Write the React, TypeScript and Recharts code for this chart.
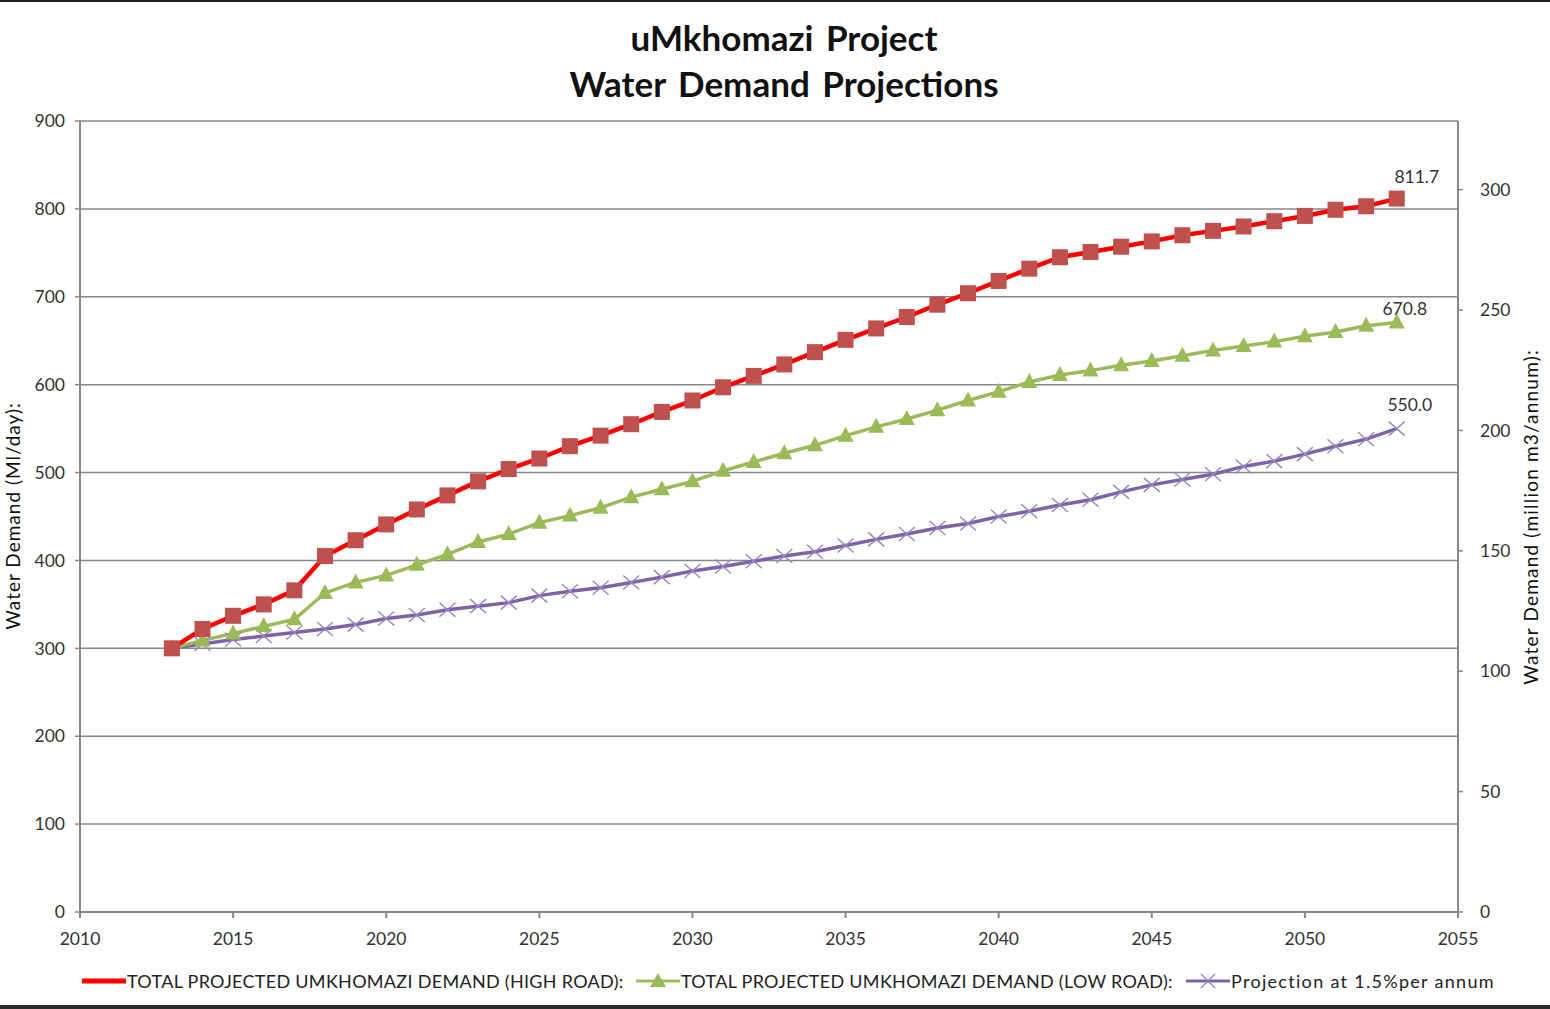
import React from 'react';
import { LineChart, Line, XAxis, YAxis, CartesianGrid } from 'recharts';

const years = [
  2013, 2014, 2015, 2016, 2017, 2018, 2019, 2020, 2021, 2022, 2023, 2024, 2025, 2026,
  2027, 2028, 2029, 2030, 2031, 2032, 2033, 2034, 2035, 2036, 2037, 2038, 2039, 2040,
  2041, 2042, 2043, 2044, 2045, 2046, 2047, 2048, 2049, 2050, 2051, 2052, 2053,
];

const highRoad = [
  300, 322, 337, 350, 366, 405, 423, 441, 458, 474, 490, 504, 516, 530,
  542, 555, 569, 582, 597, 610, 623, 637, 651, 664, 677, 691, 704, 718,
  732, 745, 751, 757, 763, 770, 775, 780, 786, 792, 799, 803, 811.7,
];

const lowRoad = [
  300, 309, 317, 325, 333, 363, 375, 383, 395, 407, 421, 430, 443, 451,
  460, 472, 481, 490, 502, 512, 522, 531, 542, 552, 561, 571, 582, 592,
  603, 611, 616, 622, 627, 633, 639, 644, 649, 655, 660, 667, 670.8,
];

const projection = [
  300, 305, 310, 314, 318, 322, 327, 334, 338, 344, 348, 352, 360, 365,
  369, 375, 381, 388, 393, 399, 405, 410, 417, 424, 430, 437, 442, 450,
  456, 463, 469, 478, 486, 492, 498, 507, 513, 521, 530, 538, 550.0,
];

const leftTicks = [0, 100, 200, 300, 400, 500, 600, 700, 800, 900];
const rightTicks = [0, 50, 100, 150, 200, 250, 300];
const yearTicks = [2010, 2015, 2020, 2025, 2030, 2035, 2040, 2045, 2050, 2055];

const seriesNames = [
  'TOTAL PROJECTED UMKHOMAZI DEMAND (HIGH ROAD):',
  'TOTAL PROJECTED UMKHOMAZI DEMAND (LOW ROAD):',
  'Projection at 1.5%per annum',
];

const data = years.map((year, i) => ({
  year,
  high: highRoad[i],
  low: lowRoad[i],
  proj: projection[i],
}));

const FONT = 'Lato, "Open Sans", sans-serif';
const TEXT = '#333333';
const AXIS = '#888888';

const SquareDot = (props: any) => {
  const { cx, cy, index } = props;
  if (cx == null || cy == null) return <g key={index} />;
  return <rect key={index} x={cx - 8} y={cy - 8} width={16} height={16} fill="#c0504d" />;
};

const TriangleDot = (props: any) => {
  const { cx, cy, index } = props;
  if (cx == null || cy == null) return <g key={index} />;
  return (
    <polygon
      key={index}
      points={`${cx},${cy - 9} ${cx + 8},${cy + 6} ${cx - 8},${cy + 6}`}
      fill="#9bbb59"
    />
  );
};

const CrossDot = (props: any) => {
  const { cx, cy, index } = props;
  if (cx == null || cy == null) return <g key={index} />;
  return (
    <g key={index} stroke="#9a86c0" strokeWidth={1.4}>
      <line x1={cx - 8} y1={cy - 7} x2={cx + 8} y2={cy + 7} />
      <line x1={cx - 8} y1={cy + 7} x2={cx + 8} y2={cy - 7} />
    </g>
  );
};

const endLabel = (dx: number, dy: number) => (props: any) => {
  const { x, y, index, value } = props;
  if (index !== years.length - 1) return <g key={index} />;
  return (
    <text
      key={index}
      x={x + dx}
      y={y + dy}
      textAnchor="middle"
      dominantBaseline="central"
      fontSize={17.5}
      fontFamily={FONT}
      fill={TEXT}
    >
      {Number(value).toFixed(1)}
    </text>
  );
};

const LegendItem = ({ left, color, marker, label, spacing }: any) => (
  <div style={{ position: 'absolute', left, top: 969, display: 'flex', alignItems: 'center', height: 24 }}>
    <svg width={46} height={24}>
      <line x1={1} y1={12} x2={45} y2={12} stroke={color} strokeWidth={marker === 'none' ? 5 : 3} />
      {marker === 'triangle' && <polygon points="23,4 31,18 15,18" fill="#9bbb59" />}
      {marker === 'cross' && (
        <g stroke="#9a86c0" strokeWidth={1.4}>
          <line x1={16} y1={5} x2={30} y2={19} />
          <line x1={16} y1={19} x2={30} y2={5} />
        </g>
      )}
    </svg>
    <span style={{ fontFamily: FONT, fontSize: 18, color: '#222', whiteSpace: 'nowrap', letterSpacing: spacing }}>
      {label}
    </span>
  </div>
);

export default function App() {
  return (
    <div style={{ position: 'absolute', left: 0, top: 0, width: 1550, height: 1009, background: '#fff', overflow: 'hidden' }}>
      <div style={{ position: 'absolute', left: 0, top: 0, width: 1550, height: 2, background: '#222' }} />
      <div style={{ position: 'absolute', left: 0, top: 1005, width: 1550, height: 4, background: '#2a2a2a' }} />

      <div
        style={{
          position: 'absolute',
          left: 0,
          top: 14,
          width: 1568,
          textAlign: 'center',
          fontFamily: FONT,
          fontWeight: 'bold',
          fontSize: 35,
          lineHeight: '46px',
          color: '#111',
          wordSpacing: 4,
        }}
      >
        uMkhomazi Project
        <br />
        Water Demand Projections
      </div>

      <div
        style={{
          position: 'absolute',
          left: 12,
          top: 516,
          transform: 'translate(-50%, -50%) rotate(-90deg)',
          fontFamily: FONT,
          fontSize: 19,
          letterSpacing: 1,
          color: '#111',
          whiteSpace: 'nowrap',
        }}
      >
        Water Demand (Ml/day):
      </div>
      <div
        style={{
          position: 'absolute',
          left: 1530,
          top: 517,
          transform: 'translate(-50%, -50%) rotate(-90deg)',
          fontFamily: FONT,
          fontSize: 19,
          letterSpacing: 1.2,
          color: '#111',
          whiteSpace: 'nowrap',
        }}
      >
        Water Demand (million m3/annum):
      </div>

      <div style={{ position: 'absolute', left: 0, top: 0 }}>
        <LineChart width={1550} height={1005} data={data} margin={{ top: 121, right: 0, bottom: 53, left: 0 }}>
          <CartesianGrid yAxisId="left" vertical={false} stroke={AXIS} strokeWidth={1.5} />
          <XAxis
            dataKey="year"
            type="number"
            domain={[2010, 2055]}
            ticks={yearTicks}
            height={40}
            tickSize={6}
            tickMargin={15}
            tick={{ fontSize: 17.5, fontFamily: FONT, fill: TEXT }}
            axisLine={{ stroke: AXIS, strokeWidth: 2 }}
            tickLine={{ stroke: AXIS, strokeWidth: 2 }}
          />
          <YAxis
            yAxisId="left"
            domain={[0, 900]}
            ticks={leftTicks}
            width={80}
            tickSize={5}
            tickMargin={10}
            tick={{ fontSize: 17.5, fontFamily: FONT, fill: TEXT }}
            axisLine={{ stroke: AXIS, strokeWidth: 2 }}
            tickLine={{ stroke: AXIS, strokeWidth: 1.5 }}
          />
          <YAxis
            yAxisId="right"
            orientation="right"
            domain={[0, 328.5]}
            allowDataOverflow
            ticks={rightTicks}
            width={92}
            tickSize={5}
            tickMargin={17}
            tick={{ fontSize: 17.5, fontFamily: FONT, fill: TEXT }}
            axisLine={{ stroke: AXIS, strokeWidth: 2 }}
            tickLine={{ stroke: AXIS, strokeWidth: 1.5 }}
          />
          <Line
            yAxisId="left"
            dataKey="proj"
            name={seriesNames[2]}
            stroke="#7f62a8"
            strokeWidth={3.5}
            dot={CrossDot}
            activeDot={false}
            label={endLabel(13, -24)}
            isAnimationActive={false}
          />
          <Line
            yAxisId="left"
            dataKey="low"
            name={seriesNames[1]}
            stroke="#9bbb59"
            strokeWidth={3.5}
            dot={TriangleDot}
            activeDot={false}
            label={endLabel(8, -14)}
            isAnimationActive={false}
          />
          <Line
            yAxisId="left"
            dataKey="high"
            name={seriesNames[0]}
            stroke="#ff0000"
            strokeWidth={4.5}
            dot={SquareDot}
            activeDot={false}
            label={endLabel(20, -22)}
            isAnimationActive={false}
          />
        </LineChart>
      </div>

      <LegendItem left={81} color="#ff0000" marker="none" label={seriesNames[0]} spacing={0.3} />
      <LegendItem left={635} color="#9bbb59" marker="triangle" label={seriesNames[1]} spacing={0.3} />
      <LegendItem left={1185} color="#7f62a8" marker="cross" label={seriesNames[2]} spacing={1.3} />
    </div>
  );
}
